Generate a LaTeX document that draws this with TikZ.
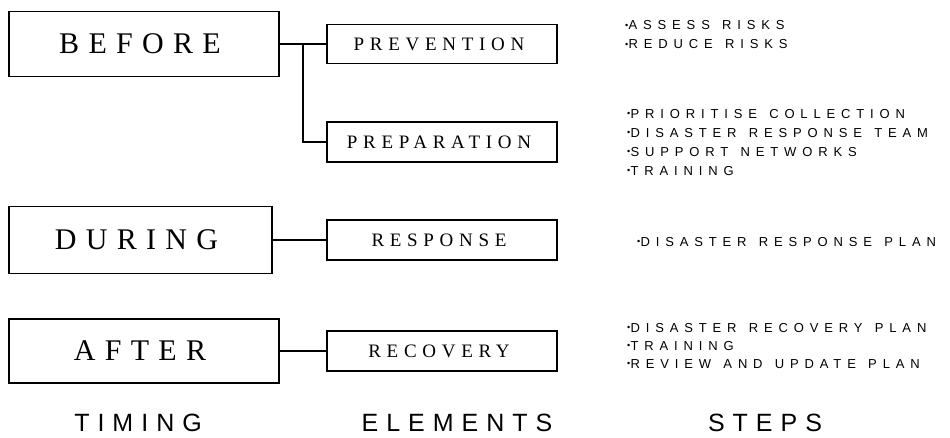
\documentclass[tikz,border=0pt]{standalone}
\usepackage{fontspec}
\setmainfont{Liberation Serif}
\newfontfamily\boxfont[LetterSpace=31]{Liberation Serif}
\newfontfamily\elemfont[LetterSpace=30]{Liberation Serif}
\newfontfamily\stepfont[LetterSpace=45,WordSpace=1.3]{Liberation Sans}
\newfontfamily\headfont[LetterSpace=32]{Liberation Sans}
\newcommand\stepdot{\raisebox{1.8pt}{\fontsize{9}{9}\selectfont\char"2022}\kern0.3pt}
\tikzset{
  timebox/.style={draw, line width=1.2pt, inner sep=0pt, minimum height=65pt,
    font=\boxfont\fontsize{30}{36}\selectfont, execute at end node={\hspace{8pt}}},
  elembox/.style={draw, line width=1.2pt, inner sep=0pt, minimum width=230pt,
    minimum height=40pt, font=\elemfont\fontsize{19}{23}\selectfont,
    execute at end node={\hspace{6pt}}},
  steptext/.style={anchor=base west, align=left, inner sep=0pt,
    font=\stepfont\fontsize{13}{19}\selectfont},
  headtext/.style={inner sep=0pt, font=\headfont\fontsize{25}{30}\selectfont},
  link/.style={line width=1.2pt}
}

\begin{document}
\begin{tikzpicture}[x=1pt, y=-1pt]
  \useasboundingbox (0,0) rectangle (950,438);
  % timing
  \node[timebox, minimum width=270pt] (before) at (144,44) {BEFORE};
  \node[timebox, minimum width=263pt, minimum height=67pt] (during) at (140.5,240) {DURING};
  \node[timebox, minimum width=270pt, minimum height=64pt] (after) at (144,351) {AFTER};
  % elements
  \node[elembox, minimum height=39pt] (prevention) at (442,44) {PREVENTION};
  \node[elembox] (preparation) at (442,142) {PREPARATION};
  \node[elembox] (response) at (442,240) {RESPONSE};
  \node[elembox] (recovery) at (442,351) {RECOVERY};
  \coordinate (split) at (303,44);
  \draw[link] (before) -- (prevention);
  \draw[link] (split) |- (preparation);
  \draw[link] (during) -- (response);
  \draw[link] (after) -- (recovery);
  % steps (anchored on the last line)
  \node[steptext] (preventsteps) at (625,49)
    {\stepdot ASSESS RISKS\\\stepdot REDUCE RISKS};
  \node[steptext] (preparesteps) at (627,175.5)
    {\stepdot PRIORITISE COLLECTION\\\stepdot DISASTER RESPONSE TEAM\\
     \stepdot SUPPORT NETWORKS\\\stepdot TRAINING};
  \node[steptext] (responsesteps) at (637,246.5)
    {\stepdot DISASTER RESPONSE PLAN};
  \node[steptext] (recoversteps) at (627,368.5)
    {\stepdot DISASTER RECOVERY PLAN\\[-1pt]\stepdot TRAINING\\[-1pt]
     \stepdot REVIEW AND UPDATE PLAN};
  % column heads
  \node[headtext] (timing) at (138,423) {TIMING};
  \node[headtext] (elements) at (457,423) {ELEMENTS};
  \node[headtext] (steps) at (765,423) {STEPS};
\end{tikzpicture}
\end{document}
